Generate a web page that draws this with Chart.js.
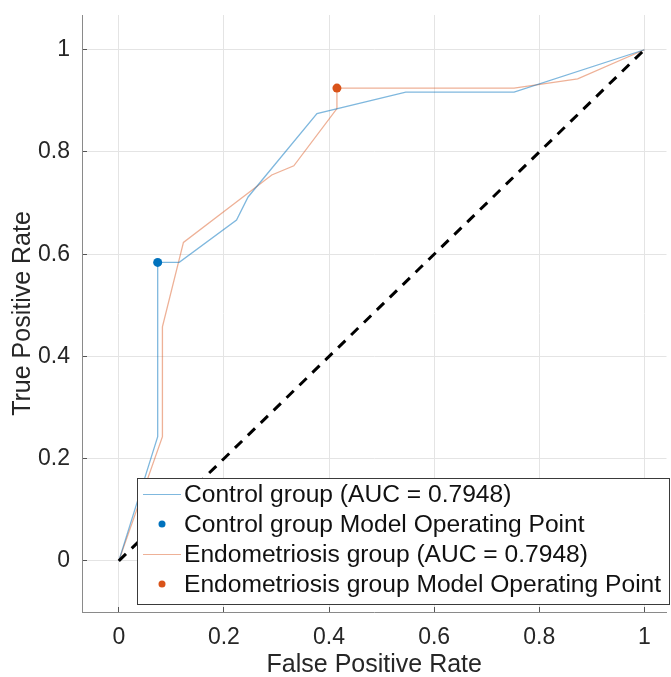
<!DOCTYPE html>
<html>
<head>
<meta charset="utf-8">
<script src="https://cdn.jsdelivr.net/npm/chart.js@4.4.1/dist/chart.umd.min.js"></script>
<style>
  html, body { margin: 0; padding: 0; background: #ffffff; }
  #wrap { width: 671px; height: 677px; }
</style>
</head>
<body>
<div id="wrap"><canvas id="c" width="671" height="677"></canvas></div>
<script>
// ---- data ----
const xTicks = [0, 0.2, 0.4, 0.6, 0.8, 1];
const xTickLabels = ['0', '0.2', '0.4', '0.6', '0.8', '1'];
const yTicks = [0, 0.2, 0.4, 0.6, 0.8, 1];
const yTickLabels = ['0', '0.2', '0.4', '0.6', '0.8', '1'];

const controlFPR = [0, 0.074, 0.074, 0.115, 0.224, 0.246, 0.377, 0.546, 0.752, 1];
const controlTPR = [0, 0.243, 0.584, 0.584, 0.667, 0.712, 0.875, 0.917, 0.917, 1];
const endoFPR = [0, 0.083, 0.083, 0.123, 0.291, 0.333, 0.415, 0.415, 0.752, 0.873, 1];
const endoTPR = [0, 0.243, 0.458, 0.623, 0.755, 0.773, 0.885, 0.925, 0.925, 0.943, 1];

const controlOpFPR = [0.074];
const controlOpTPR = [0.584];
const endoOpFPR = [0.415];
const endoOpTPR = [0.925];

const chanceFPR = [0, 1];
const chanceTPR = [0, 1];

const seriesLabels = [
  'Control group (AUC = 0.7948)',
  'Control group Model Operating Point',
  'Endometriosis group (AUC = 0.7948)',
  'Endometriosis group Model Operating Point'
];

// ---- helpers ----
const pts = (xs, ys) => xs.map((x, i) => ({ x: x, y: ys[i] }));
const FONT = "'Liberation Sans', Arial, Helvetica, sans-serif";
const TEXT = '#262626';
const blueLine = 'rgba(0,114,189,0.5)';
const orangeLine = 'rgba(217,83,25,0.45)';
const blueDot = '#0072BD';
const orangeDot = '#D95319';

const legendPlugin = {
  id: 'matlabLegend',
  afterDraw(chart) {
    const ctx = chart.ctx;
    const left = 137.5, top = 478.5, right = 669.5, bottom = 604.5;
    ctx.save();
    ctx.fillStyle = '#ffffff';
    ctx.fillRect(left, top, right - left, bottom - top);
    ctx.strokeStyle = '#3a3a3a';
    ctx.lineWidth = 1;
    ctx.strokeRect(left, top, right - left, bottom - top);
    const rowY = [494, 524, 554, 584];
    const styles = [
      { type: 'line', color: blueLine },
      { type: 'dot', color: blueDot },
      { type: 'line', color: orangeLine },
      { type: 'dot', color: orangeDot }
    ];
    ctx.font = '24.6px ' + FONT;
    ctx.textBaseline = 'middle';
    ctx.textAlign = 'left';
    for (let i = 0; i < seriesLabels.length; i++) {
      const y = rowY[i];
      const s = styles[i];
      if (s.type === 'line') {
        ctx.strokeStyle = s.color;
        ctx.lineWidth = 1.2;
        ctx.beginPath();
        ctx.moveTo(143, y + 0.5);
        ctx.lineTo(181, y + 0.5);
        ctx.stroke();
      } else {
        ctx.fillStyle = s.color;
        ctx.beginPath();
        ctx.arc(162, y, 3.5, 0, Math.PI * 2);
        ctx.fill();
      }
      ctx.fillStyle = '#111111';
      ctx.fillText(seriesLabels[i], 184, y + 1);
    }
    ctx.restore();
  }
};

function zeroPad(scale) {
  scale.paddingTop = 0; scale.paddingBottom = 0;
  scale.paddingLeft = 0; scale.paddingRight = 0;
}

new Chart(document.getElementById('c'), {
  type: 'scatter',
  data: {
    datasets: [
      {
        label: seriesLabels[1],
        data: pts(controlOpFPR, controlOpTPR),
        pointRadius: 4.5, pointHoverRadius: 4.5,
        pointBackgroundColor: blueDot, pointBorderWidth: 0,
        showLine: false, order: 0
      },
      {
        label: seriesLabels[3],
        data: pts(endoOpFPR, endoOpTPR),
        pointRadius: 4.5, pointHoverRadius: 4.5,
        pointBackgroundColor: orangeDot, pointBorderWidth: 0,
        showLine: false, order: 0
      },
      {
        label: 'chance',
        data: pts(chanceFPR, chanceTPR),
        showLine: true, borderColor: '#000000', borderWidth: 3,
        borderDash: [10, 8], pointRadius: 0, order: 1
      },
      {
        label: seriesLabels[0],
        data: pts(controlFPR, controlTPR),
        showLine: true, borderColor: blueLine, borderWidth: 1.3,
        pointRadius: 0, order: 2
      },
      {
        label: seriesLabels[2],
        data: pts(endoFPR, endoTPR),
        showLine: true, borderColor: orangeLine, borderWidth: 1.3,
        pointRadius: 0, order: 3
      }
    ]
  },
  options: {
    responsive: false,
    animation: false,
    layout: { padding: { top: 15, left: 0, right: 0, bottom: 0 } },
    plugins: { legend: { display: false }, tooltip: { enabled: false } },
    scales: {
      x: {
        type: 'linear', position: 'bottom',
        min: -0.07, max: 1.042,
        afterBuildTicks(scale) { scale.ticks = xTicks.map(v => ({ value: v })); },
        afterFit(scale) { scale.height = 65; zeroPad(scale); },
        grid: { color: '#e4e4e4', lineWidth: 1, drawTicks: true, tickLength: -5, tickColor: '#555555', tickWidth: 1 },
        border: { display: true, color: '#8a8a8a', width: 1 },
        ticks: {
          color: TEXT, font: { family: FONT, size: 23 }, padding: 17, maxRotation: 0, autoSkip: false,
          callback: (v) => xTickLabels[xTicks.indexOf(v)]
        },
        title: { display: true, text: 'False Positive Rate', color: TEXT, font: { family: FONT, size: 25 }, padding: { top: 0, bottom: -3 } }
      },
      y: {
        type: 'linear', position: 'left',
        min: -0.1, max: 1.068,
        afterBuildTicks(scale) { scale.ticks = yTicks.map(v => ({ value: v })); },
        afterFit(scale) { scale.width = 82; zeroPad(scale); },
        grid: { color: '#e4e4e4', lineWidth: 1, drawTicks: true, tickLength: -5, tickColor: '#555555', tickWidth: 1 },
        border: { display: true, color: '#8a8a8a', width: 1 },
        ticks: {
          color: TEXT, font: { family: FONT, size: 23 }, padding: 17, autoSkip: false,
          callback: (v) => yTickLabels[yTicks.indexOf(v)]
        },
        title: { display: true, text: 'True Positive Rate', color: TEXT, font: { family: FONT, size: 25 }, padding: { top: 8, bottom: 0 } }
      }
    }
  },
  plugins: [legendPlugin]
});
</script>
</body>
</html>
